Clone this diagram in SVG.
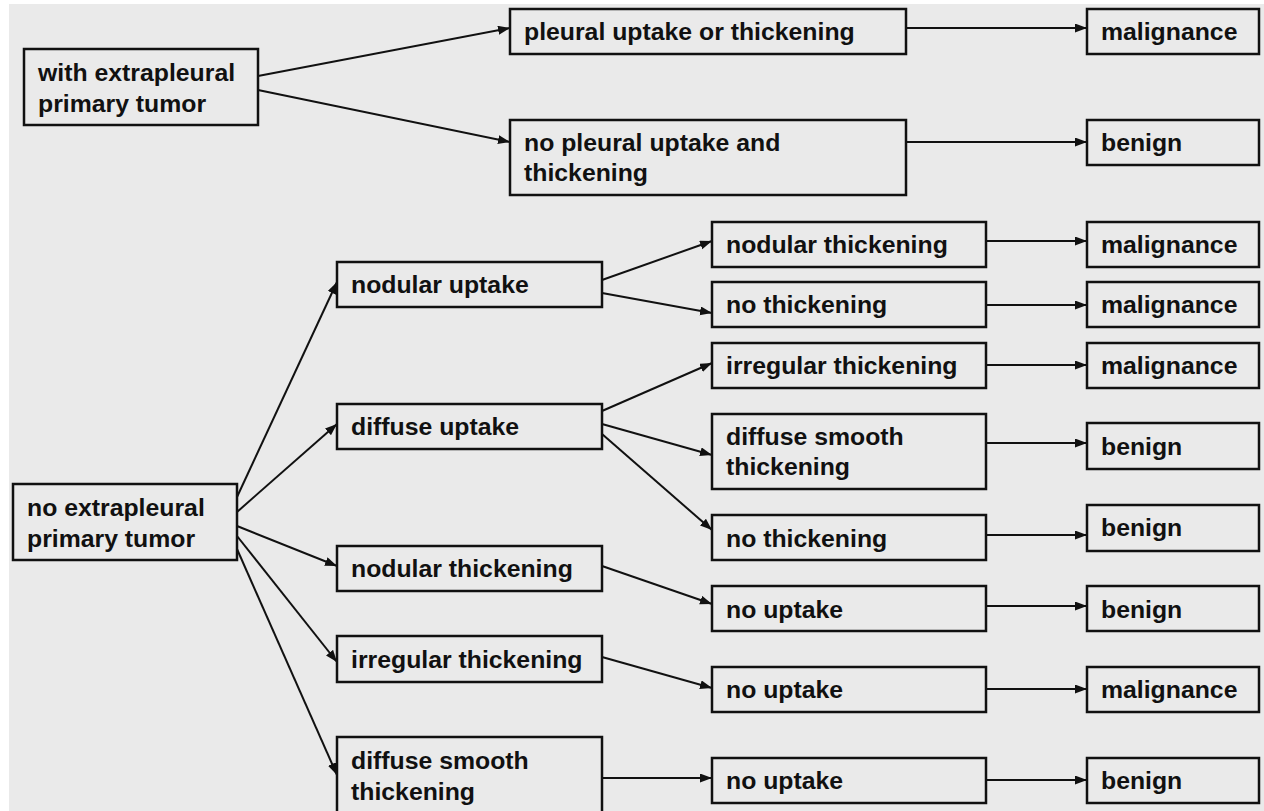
<svg xmlns="http://www.w3.org/2000/svg" width="1264" height="811" viewBox="0 0 1264 811">
<style>
.box{fill:#eaeaea;stroke:#111;stroke-width:2.5}
.t{font-family:"Liberation Sans",Arial,sans-serif;font-weight:bold;font-size:24.8px;fill:#111}
.c{stroke:#111;stroke-width:2;fill:none;marker-end:url(#ah)}
</style>
<defs>
<marker id="ah" markerUnits="userSpaceOnUse" markerWidth="13" markerHeight="10" refX="12" refY="4.5" orient="auto">
<path d="M0,0 L12,4.5 L0,9 Z" fill="#111"/>
</marker>
</defs>
<rect x="0" y="0" width="1264" height="811" fill="#fff"/>
<rect x="9" y="4" width="1255" height="807" fill="#eaeaea"/>

<g id="connectors">
<line class="c" x1="258" y1="76" x2="510" y2="28"/>
<line class="c" x1="258" y1="90" x2="510" y2="142"/>
<line class="c" x1="906" y1="28" x2="1087" y2="28"/>
<line class="c" x1="906" y1="142" x2="1087" y2="142"/>
<line class="c" x1="237" y1="497" x2="337" y2="282"/>
<line class="c" x1="237" y1="512" x2="337" y2="424"/>
<line class="c" x1="237" y1="526" x2="337" y2="566"/>
<line class="c" x1="237" y1="536" x2="337" y2="662"/>
<line class="c" x1="237" y1="549" x2="337" y2="775"/>
<line class="c" x1="602" y1="280" x2="712" y2="241"/>
<line class="c" x1="602" y1="293" x2="712" y2="313"/>
<line class="c" x1="602" y1="411" x2="712" y2="363"/>
<line class="c" x1="602" y1="424" x2="712" y2="455"/>
<line class="c" x1="602" y1="434" x2="712" y2="530"/>
<line class="c" x1="602" y1="566" x2="712" y2="604"/>
<line class="c" x1="602" y1="657" x2="712" y2="688"/>
<line class="c" x1="602" y1="778" x2="712" y2="778"/>
<line class="c" x1="986" y1="241" x2="1087" y2="241"/>
<line class="c" x1="986" y1="305" x2="1087" y2="305"/>
<line class="c" x1="986" y1="365" x2="1087" y2="365"/>
<line class="c" x1="986" y1="443" x2="1087" y2="443"/>
<line class="c" x1="986" y1="535" x2="1087" y2="535"/>
<line class="c" x1="986" y1="606" x2="1087" y2="606"/>
<line class="c" x1="986" y1="689" x2="1087" y2="689"/>
<line class="c" x1="986" y1="780" x2="1087" y2="780"/>
</g>

<g id="n_with"><rect class="box" x="24" y="49" width="234" height="76"/><text class="t" x="38" y="81">with extrapleural</text><text class="t" x="38" y="112">primary tumor</text></g>
<g id="n_pleural"><rect class="box" x="510" y="9" width="396" height="45"/><text class="t" x="524" y="40">pleural uptake or thickening</text></g>
<g id="n_mal1"><rect class="box" x="1087" y="9" width="172" height="45"/><text class="t" x="1101" y="40">malignance</text></g>
<g id="n_nopleural"><rect class="box" x="510" y="120" width="396" height="75"/><text class="t" x="524" y="151">no pleural uptake and</text><text class="t" x="524" y="181">thickening</text></g>
<g id="n_ben1"><rect class="box" x="1087" y="120" width="172" height="45"/><text class="t" x="1101" y="151">benign</text></g>

<g id="n_no"><rect class="box" x="13" y="484" width="224" height="76"/><text class="t" x="27" y="516">no extrapleural</text><text class="t" x="27" y="547">primary tumor</text></g>

<g id="n_nodup"><rect class="box" x="337" y="262" width="265" height="45"/><text class="t" x="351" y="293">nodular uptake</text></g>
<g id="n_difup"><rect class="box" x="337" y="404" width="265" height="45"/><text class="t" x="351" y="435">diffuse uptake</text></g>
<g id="n_nodth"><rect class="box" x="337" y="546" width="265" height="45"/><text class="t" x="351" y="577">nodular thickening</text></g>
<g id="n_irrth"><rect class="box" x="337" y="636" width="265" height="46"/><text class="t" x="351" y="668">irregular thickening</text></g>
<g id="n_difsm"><rect class="box" x="337" y="737" width="265" height="80"/><text class="t" x="351" y="769">diffuse smooth</text><text class="t" x="351" y="800">thickening</text></g>

<g id="n_c3a"><rect class="box" x="712" y="222" width="274" height="45"/><text class="t" x="726" y="253">nodular thickening</text></g>
<g id="n_c3b"><rect class="box" x="712" y="282" width="274" height="45"/><text class="t" x="726" y="313">no thickening</text></g>
<g id="n_c3c"><rect class="box" x="712" y="343" width="274" height="45"/><text class="t" x="726" y="374">irregular thickening</text></g>
<g id="n_c3d"><rect class="box" x="712" y="414" width="274" height="75"/><text class="t" x="726" y="445">diffuse smooth</text><text class="t" x="726" y="475">thickening</text></g>
<g id="n_c3e"><rect class="box" x="712" y="515" width="274" height="45"/><text class="t" x="726" y="547">no thickening</text></g>
<g id="n_c3f"><rect class="box" x="712" y="586" width="274" height="45"/><text class="t" x="726" y="618">no uptake</text></g>
<g id="n_c3g"><rect class="box" x="712" y="667" width="274" height="45"/><text class="t" x="726" y="698">no uptake</text></g>
<g id="n_c3h"><rect class="box" x="712" y="758" width="274" height="45"/><text class="t" x="726" y="789">no uptake</text></g>

<g id="n_c4a"><rect class="box" x="1087" y="222" width="172" height="45"/><text class="t" x="1101" y="253">malignance</text></g>
<g id="n_c4b"><rect class="box" x="1087" y="282" width="172" height="45"/><text class="t" x="1101" y="313">malignance</text></g>
<g id="n_c4c"><rect class="box" x="1087" y="343" width="172" height="45"/><text class="t" x="1101" y="374">malignance</text></g>
<g id="n_c4d"><rect class="box" x="1087" y="423" width="172" height="46"/><text class="t" x="1101" y="455">benign</text></g>
<g id="n_c4e"><rect class="box" x="1087" y="505" width="172" height="46"/><text class="t" x="1101" y="536">benign</text></g>
<g id="n_c4f"><rect class="box" x="1087" y="586" width="172" height="45"/><text class="t" x="1101" y="618">benign</text></g>
<g id="n_c4g"><rect class="box" x="1087" y="667" width="172" height="45"/><text class="t" x="1101" y="698">malignance</text></g>
<g id="n_c4h"><rect class="box" x="1087" y="758" width="172" height="45"/><text class="t" x="1101" y="789">benign</text></g>
</svg>
